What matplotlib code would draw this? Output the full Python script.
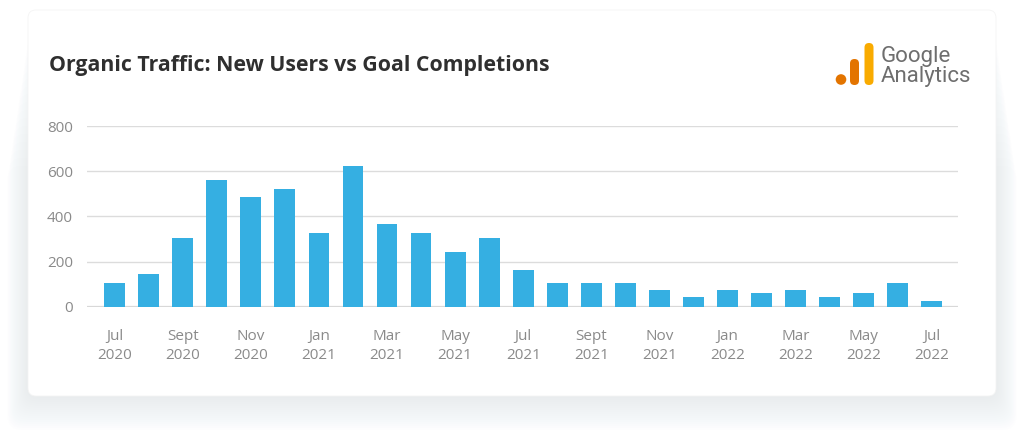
import matplotlib
matplotlib.use('Agg')
import matplotlib.pyplot as plt
from matplotlib.patches import FancyBboxPatch, Circle

# monthly organic new users, Jul 2020 - Jul 2022
months = ['Jul 2020', 'Aug 2020', 'Sep 2020', 'Oct 2020', 'Nov 2020', 'Dec 2020',
          'Jan 2021', 'Feb 2021', 'Mar 2021', 'Apr 2021', 'May 2021', 'Jun 2021',
          'Jul 2021', 'Aug 2021', 'Sep 2021', 'Oct 2021', 'Nov 2021', 'Dec 2021',
          'Jan 2022', 'Feb 2022', 'Mar 2022', 'Apr 2022', 'May 2022', 'Jun 2022',
          'Jul 2022']
users = [105, 145, 305, 560, 485, 520, 325, 625, 365, 325, 240, 305,
         163, 105, 105, 105, 75, 42, 75, 62, 75, 42, 62, 105, 25]
tick_labels = ['Jul\n2020', 'Sept\n2020', 'Nov\n2020', 'Jan\n2021', 'Mar\n2021',
               'May\n2021', 'Jul\n2021', 'Sept\n2021', 'Nov\n2021', 'Jan\n2022',
               'Mar\n2022', 'May\n2022', 'Jul\n2022']
y_ticks = [0, 200, 400, 600, 800]

W, H = 1024, 444
fig = plt.figure(figsize=(W / 100, H / 100), dpi=100)
fig.patch.set_facecolor('white')

# background axes in pixel units for the card and its shadow
bg = fig.add_axes([0, 0, 1, 1])
bg.set_xlim(0, W)
bg.set_ylim(H, 0)
bg.axis('off')
for i in range(18):
    g = i * 2.0
    top = 30 + g * 4
    bg.add_patch(FancyBboxPatch(
        (28 - g * 0.6, top), 968 + g * 1.2, 396 + g - top,
        boxstyle='round,pad=0,rounding_size=14',
        facecolor='#dde3e7', edgecolor='none', alpha=0.04, zorder=0))
bg.add_patch(FancyBboxPatch(
    (28, 10), 968, 386, boxstyle='round,pad=0,rounding_size=8',
    facecolor='white', edgecolor='#f4f4f4', lw=0.6, zorder=1))

# Google Analytics logo
bg.add_patch(FancyBboxPatch((864.5, 43), 9, 42, boxstyle='round,pad=0,rounding_size=4.5',
                            facecolor='#f9ab00', edgecolor='none', zorder=3))
bg.add_patch(FancyBboxPatch((850, 59), 9, 26, boxstyle='round,pad=0,rounding_size=4.5',
                            facecolor='#e37400', edgecolor='none', zorder=3))
bg.add_patch(Circle((841, 79.5), 5.3, facecolor='#e37400', edgecolor='none', zorder=3))
bg.text(881, 62, 'Google', fontsize=16, color='#6e6e6e', va='baseline', family='Roboto')
bg.text(881, 82, 'Analytics', fontsize=16, color='#6e6e6e', va='baseline', family='Roboto')

bg.text(49, 66, 'Organic Traffic: New Users vs Goal Completions',
        fontsize=15.3, fontweight='bold', color='#2f2f2f', va='center',
        family='Open Sans')

ax = fig.add_axes([86.7 / W, 137.3 / H, 871 / W, 180.7 / H])
ax.set_facecolor('none')

x = list(range(len(months)))
ax.bar(x, users, width=0.61, color='#35afe2', zorder=3)
ax.set_xlim(-0.82, len(months) - 0.24)
ax.set_ylim(0, 800)

ax.set_yticks(y_ticks)
ax.set_yticklabels([str(v) for v in y_ticks])
ax.set_xticks(x[::2])
ax.set_xticklabels(tick_labels, linespacing=1.4)
ax.tick_params(axis='both', length=0, labelsize=11, labelcolor='#8a8a8a',
               labelfontfamily='Open Sans')
ax.tick_params(axis='y', pad=10)
ax.tick_params(axis='x', pad=16)
for s in ax.spines.values():
    s.set_visible(False)
ax.grid(axis='y', color='#dcdcdc', lw=1.0, zorder=0)
ax.axhline(0, color='#d8d8d8', lw=1.6, zorder=2)

fig.savefig('out.png', dpi=100, facecolor=fig.get_facecolor())
